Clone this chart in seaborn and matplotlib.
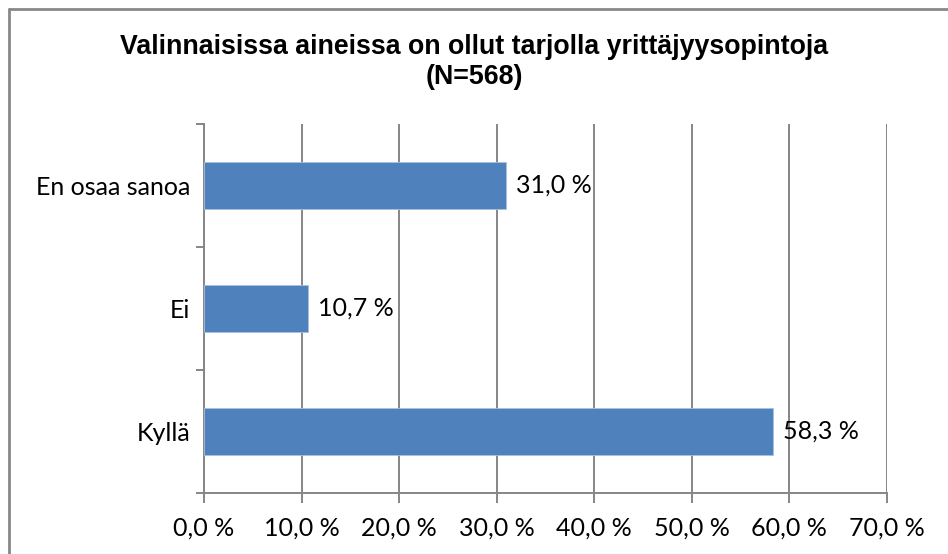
import matplotlib
matplotlib.use("Agg")
import matplotlib.pyplot as plt
import seaborn as sns
import pandas as pd
from matplotlib.lines import Line2D
from matplotlib.ticker import FuncFormatter, FixedLocator

categories = ["En osaa sanoa", "Ei", "Kyllä"]
values = [31.0, 10.7, 58.3]
xticks = [0, 10, 20, 30, 40, 50, 60, 70]
title = "Valinnaisissa aineissa on ollut tarjolla yrittäjyysopintoja\n(N=568)"

df = pd.DataFrame({"cat": categories, "val": values})

sns.set_style("white")
plt.rcParams['font.family'] = ['Lato', 'DejaVu Sans']
plt.rcParams['text.color'] = 'black'

W, H = 948, 554
fig = plt.figure(figsize=(W / 100, H / 100), dpi=100)
ax = fig.add_axes([204 / W, 1 - 493 / H, (887 - 204) / W, (493 - 124) / H])

grid_c = "#868686"
sns.barplot(data=df, x="val", y="cat", order=categories, color="#4F81BD",
            saturation=1, width=0.39, ax=ax, zorder=3, edgecolor="#a9c0dd",
            linewidth=0.6)

ax.set_xlim(0, 70)
ax.set_ylim(2.5, -0.5)
ax.xaxis.set_major_locator(FixedLocator(xticks))
ax.xaxis.set_major_formatter(FuncFormatter(lambda v, p: f"{v:.1f}".replace(".", ",") + " %"))
ax.grid(axis="x", color=grid_c, linewidth=1.4, zorder=0)
ax.grid(axis="y", visible=False)
ax.set_xlabel("")
ax.set_ylabel("")

for s in ["top", "right"]:
    ax.spines[s].set_visible(False)
for s in ["left", "bottom"]:
    ax.spines[s].set_color(grid_c)
    ax.spines[s].set_linewidth(1.4)

fs = 18
ax.tick_params(axis="x", which="major", bottom=True, direction="out", length=7,
               width=1.4, color=grid_c, labelsize=fs, labelcolor="black", pad=10)
ax.tick_params(axis="y", which="major", left=True, length=0, labelsize=fs,
               labelcolor="black", pad=10)
ax.yaxis.set_minor_locator(FixedLocator([-0.5, 0.5, 1.5, 2.5]))
ax.tick_params(axis="y", which="minor", left=True, direction="out", length=6,
               width=1.4, color=grid_c)

for i, v in enumerate(values):
    ax.text(v + 1.0, i, f"{v:.1f}".replace(".", ",") + " %", va="center",
            ha="left", fontsize=fs, color="black", zorder=4)

fig.text(0.5, 1 - 62 / H, title, ha="center", va="center", fontsize=19.3,
         fontweight="bold", family=["Liberation Sans", "DejaVu Sans"],
         linespacing=1.15, color="black")

# outer chart border (cropped at right and bottom)
fig.add_artist(Line2D([9 / W, 1], [1 - 9 / H, 1 - 9 / H], color="#888888",
                      linewidth=2, transform=fig.transFigure))
fig.add_artist(Line2D([9 / W, 9 / W], [0, 1 - 9 / H], color="#888888",
                      linewidth=2, transform=fig.transFigure))

fig.savefig("out.png", dpi=100)
